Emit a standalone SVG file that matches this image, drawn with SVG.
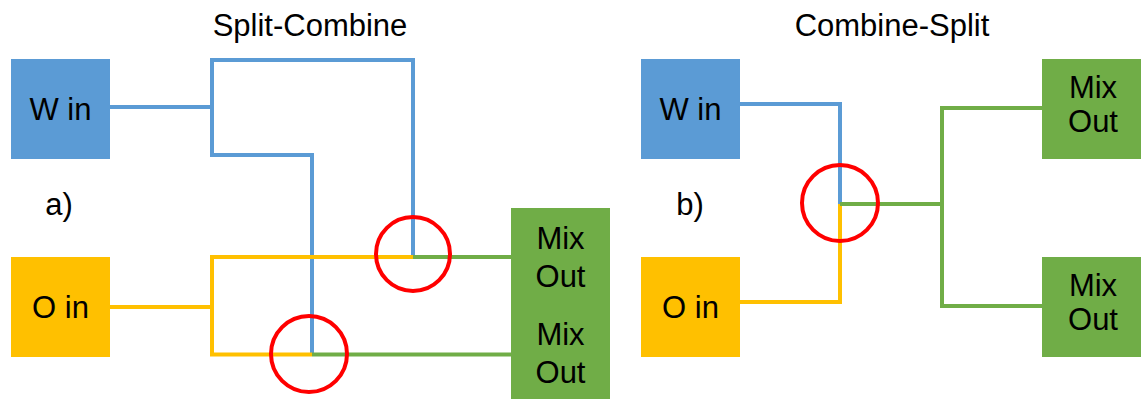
<svg xmlns="http://www.w3.org/2000/svg" width="1141" height="399" viewBox="0 0 1141 399">
<style>
text{font-family:"Liberation Sans",Arial,sans-serif;fill:#000;text-anchor:middle}
.lbl{font-size:31px}
.ttl{font-size:31px}
.ln{fill:none;stroke-width:4;stroke-linejoin:miter;stroke-linecap:butt}
.b{stroke:#5B9BD5}
.o{stroke:#FFC000}
.g{stroke:#70AD47}
.ring{fill:none;stroke:#FF0000;stroke-width:4}
</style>
<rect width="1141" height="399" fill="#fff"/>
<text class="ttl" x="310" y="36">Split-Combine</text>
<text class="ttl" x="892" y="36">Combine-Split</text>
<text class="lbl" x="59" y="215">a)</text>
<text class="lbl" x="690" y="215">b)</text>
<g id="connectors">
<path class="ln b" d="M110,107 H212"/>
<path class="ln b" d="M413,257 V60 H212 V155 H312 V354.5"/>
<path class="ln o" d="M110,307 H212"/>
<path class="ln o" d="M413,257 H212 V354.5 H312"/>
<path class="ln g" d="M413,257 H511"/>
<path class="ln g" d="M312,354.5 H511"/>
<path class="ln b" d="M740,104 H840 V204"/>
<path class="ln o" d="M740,302 H840 V204"/>
<path class="ln g" d="M840,204 H942"/>
<path class="ln g" d="M1042,108 H942 V306 H1042"/>
</g>
<g id="a-win"><rect x="11" y="59" width="99" height="100" fill="#5B9BD5"/><text class="lbl" x="60.5" y="120">W in</text></g>
<g id="a-oin"><rect x="11" y="257" width="99" height="100" fill="#FFC000"/><text class="lbl" x="60.5" y="318">O in</text></g>
<g id="a-mix"><rect x="511" y="208" width="99" height="191" fill="#70AD47"/>
<text class="lbl" x="560.5" y="249">Mix</text><text class="lbl" x="560.5" y="287">Out</text>
<text class="lbl" x="560.5" y="345">Mix</text><text class="lbl" x="560.5" y="383">Out</text></g>
<g id="b-win"><rect x="641" y="59" width="99" height="100" fill="#5B9BD5"/><text class="lbl" x="690.5" y="120">W in</text></g>
<g id="b-oin"><rect x="641" y="257" width="99" height="100" fill="#FFC000"/><text class="lbl" x="690.5" y="318">O in</text></g>
<g id="b-mix1"><rect x="1042" y="59" width="101" height="100" fill="#70AD47"/><text class="lbl" x="1093" y="98">Mix</text><text class="lbl" x="1093" y="132">Out</text></g>
<g id="b-mix2"><rect x="1042" y="257" width="101" height="100" fill="#70AD47"/><text class="lbl" x="1093" y="296">Mix</text><text class="lbl" x="1093" y="330">Out</text></g>
<g id="rings">
<circle class="ring" cx="413" cy="254" r="37"/>
<circle class="ring" cx="309" cy="354" r="38"/>
<circle class="ring" cx="840" cy="203" r="38"/>
</g>
</svg>
